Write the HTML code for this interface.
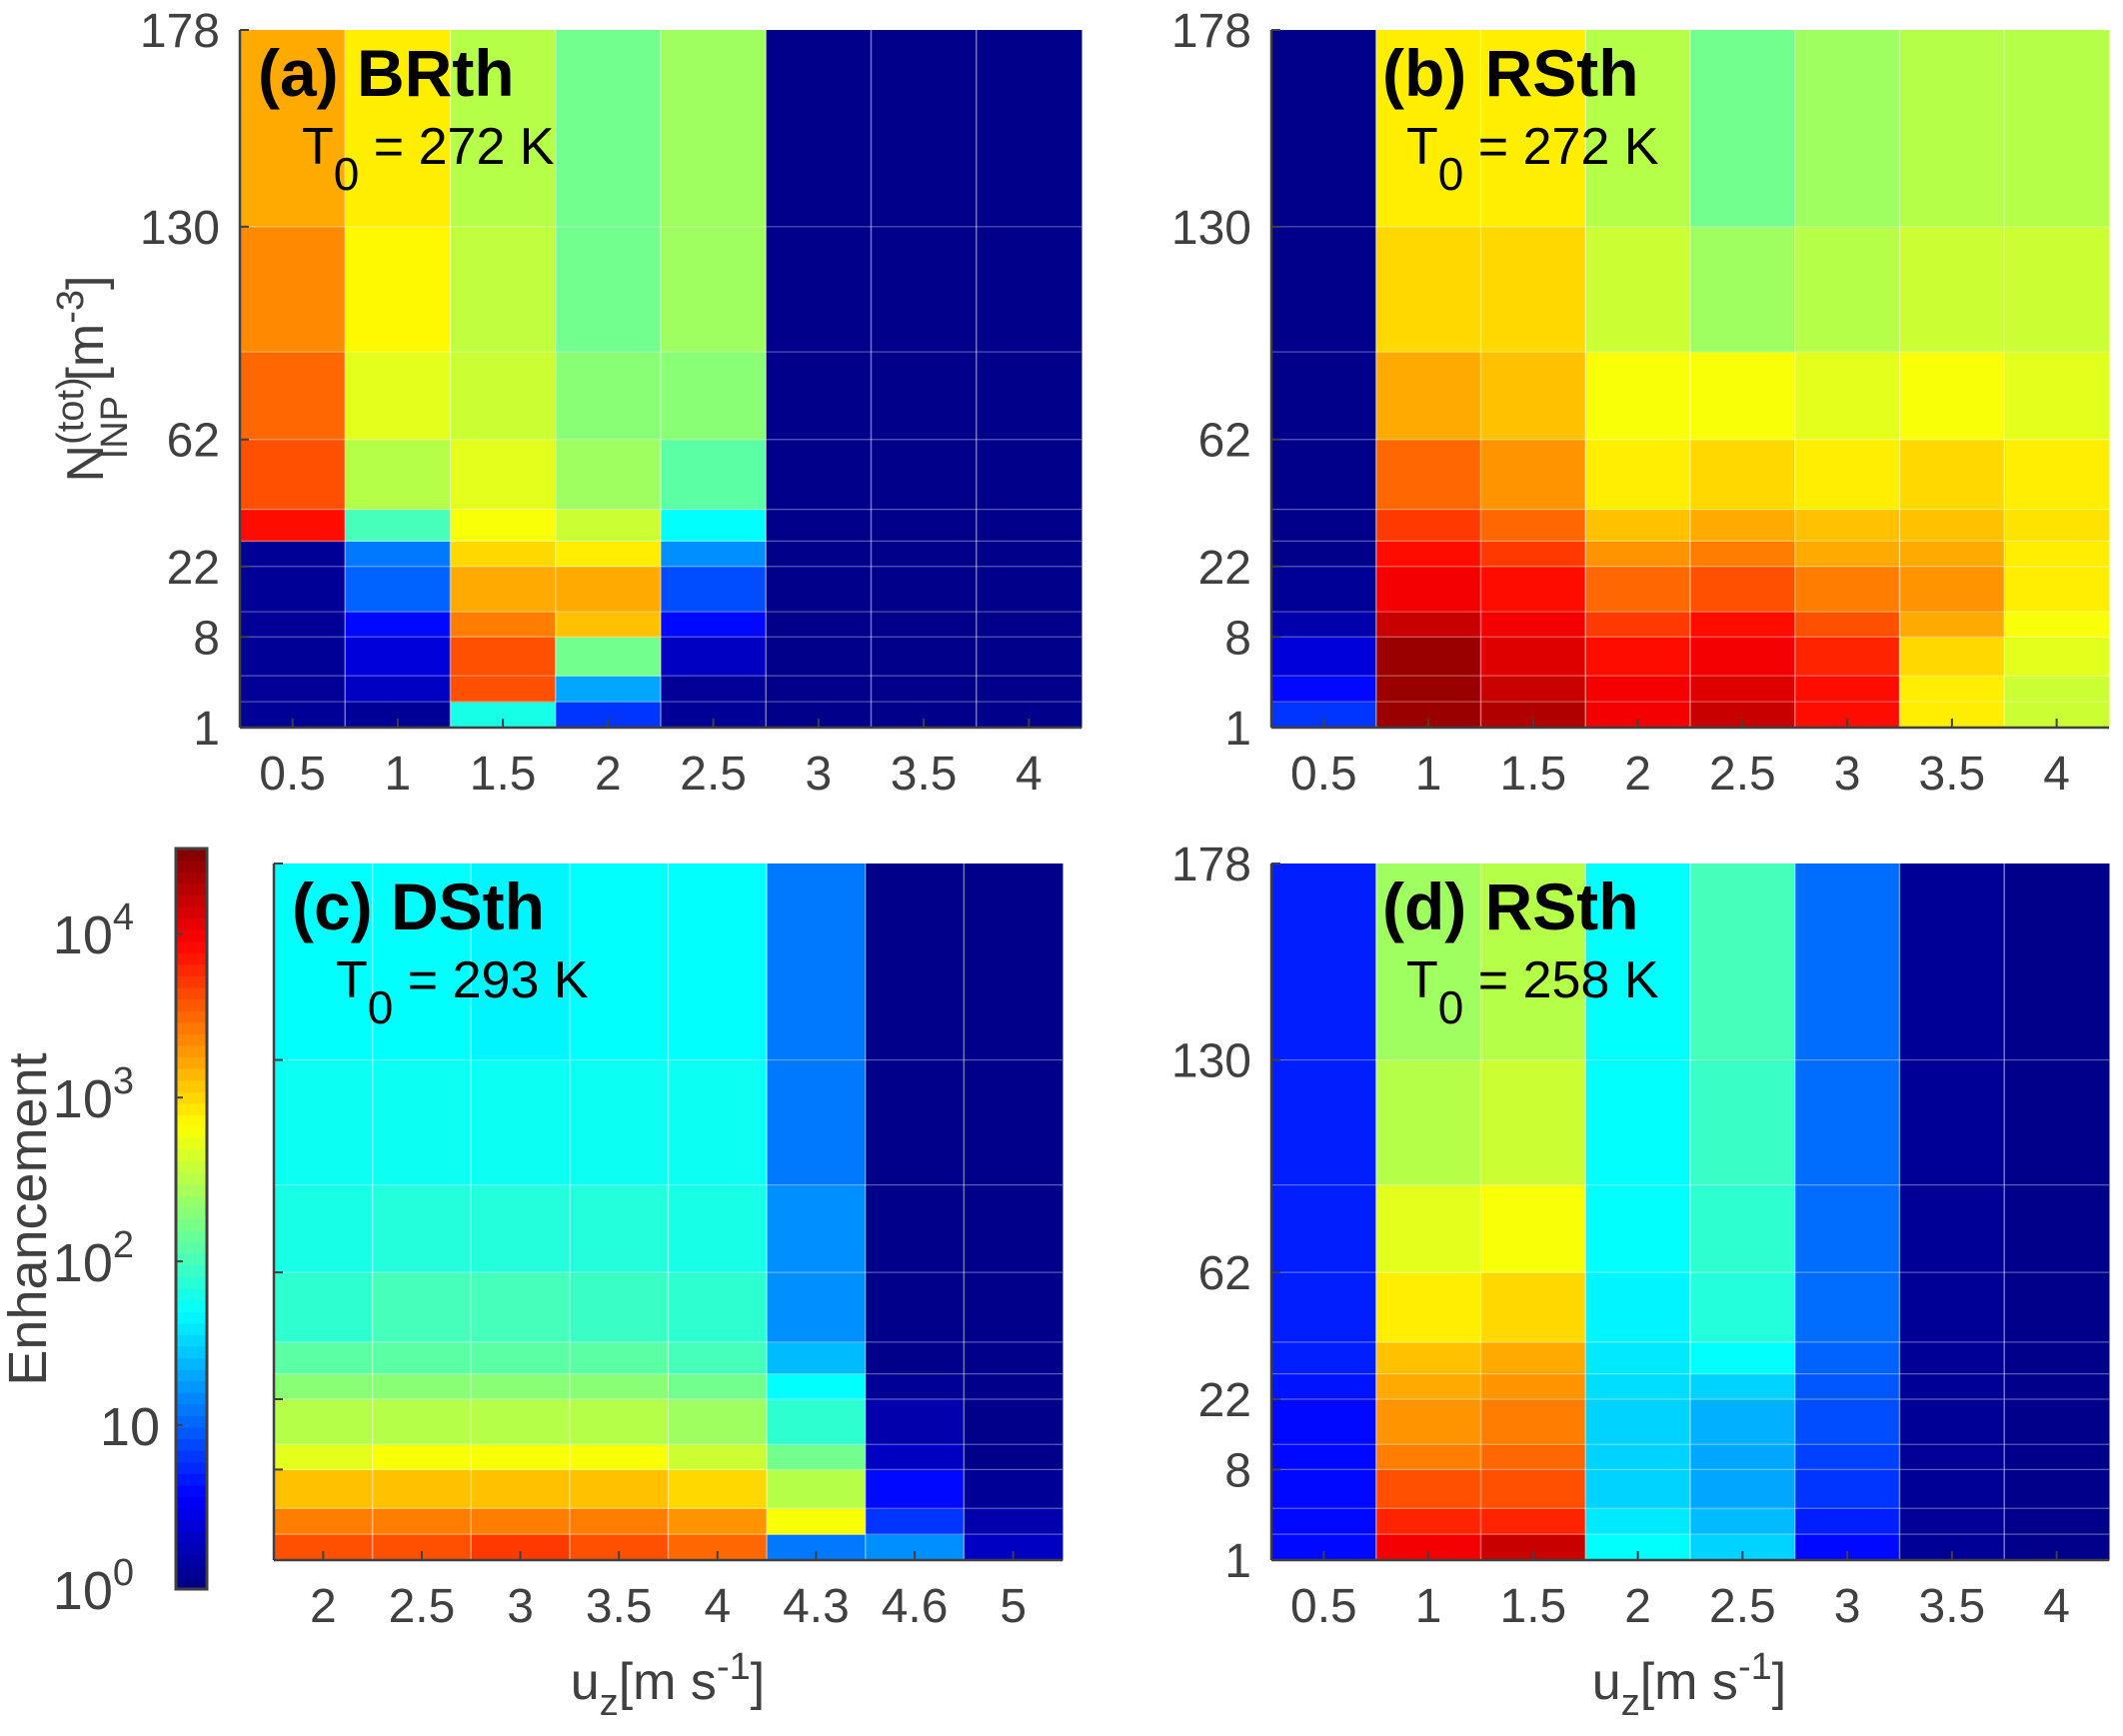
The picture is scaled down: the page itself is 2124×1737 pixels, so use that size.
<!DOCTYPE html>
<html><head><meta charset="utf-8">
<style>
html,body{margin:0;padding:0;background:#fff;}
svg{display:block;font-family:"Liberation Sans",Arial,sans-serif;}
.tk{fill:#404040;font-size:48px;}
</style></head>
<body>
<svg id="fig" width="2124" height="1737" viewBox="0 0 2124 1737" xmlns="http://www.w3.org/2000/svg"></svg>
<script>
// ---- data ----
const rowEdges = [1,3,5,8,13,22,30,40,62,90,130,178];
const yTickVals = [1,8,22,62,130,178];
const yTickFrac = [0,0.130,0.231,0.413,0.718,1];
const xCatsA = ['0.5','1','1.5','2','2.5','3','3.5','4'];
const xCatsC = ['2','2.5','3','3.5','4','4.3','4.6','5'];
// log10(Enhancement) per column, rows bottom->top
const valsA = [
 [0.1,0.1,0.1,0.1,0.1,0.1,3.9,3.6,3.5,3.35,3.2],
 [0.1,0.3,0.4,0.6,1.0,1.1,2.0,2.5,2.7,2.85,2.9],
 [1.8,3.6,3.6,3.4,3.2,3.0,2.8,2.7,2.6,2.55,2.5],
 [0.8,1.3,2.2,3.1,3.2,2.9,2.6,2.4,2.3,2.2,2.2],
 [0.1,0.1,0.3,0.6,0.9,1.2,1.7,2.1,2.3,2.4,2.4],
 [0.05,0.05,0.05,0.05,0.05,0.05,0.05,0.05,0.05,0.05,0.05],
 [0.05,0.05,0.05,0.05,0.05,0.05,0.05,0.05,0.05,0.05,0.05],
 [0.05,0.05,0.05,0.05,0.05,0.05,0.05,0.05,0.05,0.05,0.05]];
const valsB = [
 [0.8,0.6,0.4,0.2,0.1,0.05,0.05,0.05,0.05,0.05,0.05],
 [4.4,4.4,4.4,4.2,4.0,3.9,3.7,3.5,3.2,3.0,2.9],
 [4.3,4.2,4.1,4.0,3.9,3.7,3.5,3.3,3.1,3.0,2.9],
 [4.0,4.0,3.9,3.7,3.5,3.3,3.1,2.9,2.8,2.6,2.5],
 [4.2,4.1,4.0,3.9,3.6,3.4,3.2,3.0,2.8,2.4,2.2],
 [3.9,3.9,3.8,3.6,3.4,3.2,3.1,2.9,2.7,2.5,2.4],
 [2.9,2.9,3.0,3.2,3.3,3.2,3.1,3.0,2.8,2.6,2.5],
 [2.6,2.6,2.7,2.8,2.9,2.9,2.95,2.9,2.7,2.6,2.5]];
const valsC = [
 [3.6,3.4,3.1,2.7,2.5,2.3,2.1,1.9,1.8,1.75,1.7],
 [3.6,3.4,3.1,2.8,2.5,2.3,2.1,2.0,1.85,1.75,1.7],
 [3.7,3.4,3.1,2.8,2.5,2.3,2.1,2.0,1.85,1.75,1.65],
 [3.6,3.4,3.1,2.8,2.5,2.3,2.1,1.95,1.85,1.75,1.7],
 [3.5,3.3,3.0,2.6,2.4,2.2,2.0,1.9,1.8,1.75,1.7],
 [1.1,2.8,2.5,2.2,1.9,1.7,1.4,1.2,1.2,1.1,1.1],
 [1.2,0.8,0.6,0.3,0.2,0.1,0.05,0.05,0.05,0.05,0.05],
 [0.3,0.2,0.1,0.05,0.05,0.05,0.05,0.05,0.05,0.05,0.05]];
const valsD = [
 [0.6,0.6,0.6,0.6,0.6,0.65,0.7,0.7,0.7,0.7,0.7],
 [4.0,3.8,3.6,3.4,3.3,3.2,3.1,2.9,2.7,2.5,2.4],
 [4.2,3.8,3.6,3.5,3.4,3.3,3.2,3.0,2.8,2.6,2.5],
 [1.7,1.6,1.5,1.5,1.5,1.55,1.6,1.65,1.7,1.7,1.7],
 [1.5,1.4,1.3,1.3,1.35,1.5,1.7,1.85,1.9,1.95,2.0],
 [0.6,0.7,0.8,0.85,0.9,0.95,1.0,1.05,1.05,1.05,1.05],
 [0.1,0.1,0.1,0.1,0.1,0.1,0.1,0.1,0.1,0.1,0.1],
 [0.05,0.05,0.05,0.05,0.05,0.05,0.05,0.05,0.05,0.05,0.05]];
const cbTicks = [0,1,2,3,4];
const cbMax = 4.52;

const NS='http://www.w3.org/2000/svg';
const svg=document.getElementById('fig');
function el(tag,attrs,parent,text){const e=document.createElementNS(NS,tag);for(const k in attrs)e.setAttribute(k,attrs[k]);if(text!==undefined)e.textContent=text;(parent||svg).appendChild(e);return e;}
function jet(v){const t=Math.max(0,Math.min(1,v/cbMax));const c=x=>Math.round(255*Math.max(0,Math.min(1,x)));
 return `rgb(${c(1.5-Math.abs(4*t-3))},${c(1.5-Math.abs(4*t-2))},${c(1.5-Math.abs(4*t-1))})`;}
function yFrac(n){for(let i=0;i<yTickVals.length-1;i++){if(n<=yTickVals[i+1]){const a=yTickVals[i],b=yTickVals[i+1];return yTickFrac[i]+(n-a)/(b-a)*(yTickFrac[i+1]-yTickFrac[i]);}}return 1;}

function panel(name,L,T,R,B,cats,vals,title,temp,showY,tOff,pOff){
 const g=el('g',{});
 
 
 const W=R-L,H=B-T,cw=W/cats.length;
 const yPix=n=>B-yFrac(n)*H;
 vals.forEach((col,ci)=>{col.forEach((v,ri)=>{
  const y1=yPix(rowEdges[ri+1]),y0=yPix(rowEdges[ri]);
  const r=el('rect',{x:L+ci*cw,y:y1,width:cw+0.5,height:y0-y1+0.5,fill:jet(v)},g);
  
  
 });});
 for(let i=1;i<cats.length;i++)el('line',{x1:L+i*cw,y1:T,x2:L+i*cw,y2:B,stroke:'#fff','stroke-opacity':0.45,'stroke-width':1.5},g);
 for(let i=1;i<rowEdges.length-1;i++){const y=yPix(rowEdges[i]);el('line',{x1:L,y1:y,x2:R,y2:y,stroke:'#fff','stroke-opacity':0.35,'stroke-width':1.2},g);}
 el('line',{x1:L,y1:B,x2:R,y2:B,stroke:'#404040','stroke-width':2.5},g);
 el('line',{x1:L,y1:T,x2:L,y2:B,stroke:'#404040','stroke-width':2.5},g);
 cats.forEach((c,i)=>{const x=L+(i+0.5)*cw;
  el('line',{x1:x,y1:B,x2:x,y2:B-9,stroke:'#404040','stroke-width':2},g);
  const t=el('text',{x:x,y:B+62,'text-anchor':'middle',class:'tk'},g,c);
  
  
 });
 yTickVals.forEach(v=>{const y=yPix(v);
  el('line',{x1:L,y1:y,x2:L+9,y2:y,stroke:'#404040','stroke-width':2},g);
  if(showY){const t=el('text',{x:L-20,y:y+17,'text-anchor':'end',class:'tk'},g,String(v));
   
   }
 });
 const tt=el('text',{x:L+tOff,y:T+66,'font-size':'66px','font-weight':'bold',fill:'#000'},g,title);
 
 
 const tp=el('text',{x:L+pOff,y:T+134,'font-size':'52px',fill:'#000'},g);
 
 
 el('tspan',{},tp,'T');
 el('tspan',{dy:'26','font-size':'46px'},tp,'0');
 el('tspan',{dy:'-26'},tp,' = '+temp);
}
panel('panel-a',240,30,1082,728,xCatsA,valsA,'(a) BRth','272 K',true,18,62);
panel('panel-b',1272,30,2110,728,xCatsA,valsB,'(b) RSth','272 K',true,111,135);
panel('panel-c',274,864,1063,1561,xCatsC,valsC,'(c) DSth','293 K',false,18,62);
panel('panel-d',1272,864,2110,1561,xCatsA,valsD,'(d) RSth','258 K',true,111,135);

// y-axis title
const yl=el('text',{transform:'translate(103,379) rotate(-90)','text-anchor':'middle','font-size':'52px',fill:'#404040'});


el('tspan',{},yl,'N');
el('tspan',{dy:'-20','font-size':'38px'},yl,'(tot)');
el('tspan',{dx:'-82',dy:'44','font-size':'38px'},yl,'INP');
el('tspan',{dy:'-24'},yl,' [m');
el('tspan',{dy:'-20','font-size':'38px'},yl,'-3');
el('tspan',{dy:'20'},yl,']');

// x-axis titles
[[668,'x-axis-title-c'],[1690,'x-axis-title-d']].forEach(([x,n])=>{
 const t=el('text',{x:x,y:1700,'text-anchor':'middle','font-size':'52px',fill:'#404040'});
 
 
 el('tspan',{},t,'u');
 el('tspan',{dy:'16','font-size':'38px'},t,'z');
 el('tspan',{dy:'-16'},t,'[m s');
 el('tspan',{dy:'-20','font-size':'38px'},t,'-1');
 el('tspan',{dy:'20'},t,']');
});

// colorbar
const cb=el('g',{});


const cL=176,cR=207,cT=849,cB=1590,nSeg=64;
for(let i=0;i<nSeg;i++){const v=(i+0.5)/nSeg*cbMax;const h=(cB-cT)/nSeg;
 el('rect',{x:cL,y:cB-(i+1)*h,width:cR-cL,height:h+0.6,fill:jet(v)},cb);}
el('rect',{x:cL,y:cT,width:cR-cL,height:cB-cT,fill:'none',stroke:'#404040','stroke-width':3},cb);
cbTicks.forEach(k=>{const y=cB-k/cbMax*(cB-cT);
 el('line',{x1:cL,y1:y,x2:cL+7,y2:y,stroke:'#404040','stroke-width':2},cb);
 const t=el('text',{x:k===1?160:134,y:y+20,'text-anchor':'end',class:'tk',style:'font-size:54px'},cb);
 
 
 if(k===1){t.textContent='10';}else{el('tspan',{},t,'10');el('tspan',{dy:'-24',style:'font-size:38px'},t,String(k));}
});
const en=el('text',{transform:'translate(46,1220) rotate(-90)','text-anchor':'middle','font-size':'54px',fill:'#404040'},null,'Enhancement');


</script>
</body></html>
